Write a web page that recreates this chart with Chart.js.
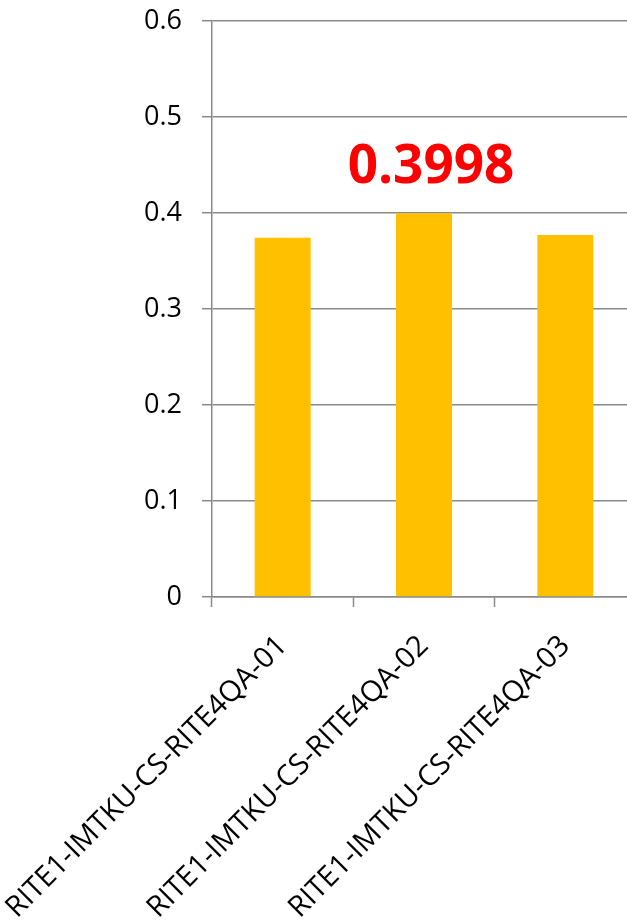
<!DOCTYPE html>
<html>
<head>
<meta charset="utf-8">
<title>RITE4QA runs</title>
<script src="https://cdn.jsdelivr.net/npm/chart.js@4.4.1/dist/chart.umd.min.js"></script>
<style>
  html, body { margin: 0; padding: 0; background: #fff; }
  body { width: 627px; height: 920px; overflow: hidden; position: relative; }
  #chart { position: absolute; left: -40px; top: 0; }
</style>
</head>
<body>
<canvas id="chart" width="676" height="920"></canvas>
<script>
// runs and their scores
const runs = ['RITE1-IMTKU-CS-RITE4QA-01', 'RITE1-IMTKU-CS-RITE4QA-02', 'RITE1-IMTKU-CS-RITE4QA-03'];
const scores = [0.3743, 0.3998, 0.3771];
const yTickValues = [0, 0.1, 0.2, 0.3, 0.4, 0.5, 0.6];

const SHIFT = 40; // canvas sits this far left of the page edge
const gridColor = '#8a8a8a';
const fontFamily = '"Open Sans", "Noto Sans", sans-serif';

// label over the best run
const bestLabel = {
    id: 'bestLabel',
    afterDatasetsDraw(chart) {
        const data = chart.data.datasets[0].data;
        const best = data.indexOf(Math.max(...data));
        const bar = chart.getDatasetMeta(0).data[best];
        const ctx = chart.ctx;
        ctx.save();
        ctx.font = 'bold 53px ' + fontFamily;
        ctx.fillStyle = '#ff0000';
        ctx.textAlign = 'center';
        ctx.textBaseline = 'alphabetic';
        ctx.fillText(data[best].toFixed(4), bar.x + 7, bar.y - 30);
        ctx.restore();
    }
};

new Chart(document.getElementById('chart'), {
    type: 'bar',
    data: {
        labels: runs,
        datasets: [{
            data: scores,
            backgroundColor: '#ffc000',
            borderWidth: 0,
            categoryPercentage: 1,
            barPercentage: 0.396
        }]
    },
    options: {
        responsive: false,
        animation: false,
        layout: { padding: { top: 21, right: 0, bottom: 0, left: 0 } },
        plugins: {
            legend: { display: false },
            tooltip: { enabled: false }
        },
        scales: {
            x: {
                grid: {
                    display: true,
                    offset: true,
                    drawOnChartArea: false,
                    drawTicks: true,
                    tickLength: 10,
                    tickColor: gridColor,
                    tickWidth: 1.5
                },
                border: { color: gridColor, width: 1.5 },
                ticks: {
                    color: '#000',
                    font: { family: fontFamily, size: 29 },
                    minRotation: 45,
                    maxRotation: 45,
                    autoSkip: false,
                    padding: 22
                },
                afterFit(scale) {
                    scale.height = 920 - 597;
                    scale.paddingLeft = 0;
                    scale.paddingRight = 0;
                }
            },
            y: {
                min: 0,
                max: 0.6,
                afterBuildTicks(scale) {
                    scale.ticks = yTickValues.map(v => ({ value: v }));
                },
                grid: {
                    color: gridColor,
                    lineWidth: 1.5,
                    drawTicks: true,
                    tickLength: 10
                },
                border: { color: gridColor, width: 1.5 },
                ticks: {
                    color: '#000',
                    font: { family: fontFamily, size: 27 },
                    padding: 20
                },
                afterFit(scale) {
                    scale.width = 212 + SHIFT;
                    scale.paddingTop = 0;
                    scale.paddingBottom = 0;
                }
            }
        }
    },
    plugins: [bestLabel]
});
</script>
</body>
</html>
